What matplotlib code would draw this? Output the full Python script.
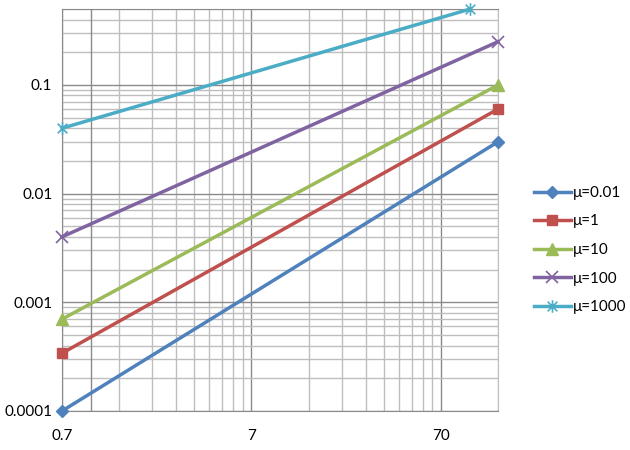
import numpy as np
import matplotlib.pyplot as plt
from matplotlib.path import Path

plt.rcParams['font.family'] = ['Lato', 'DejaVu Sans']

# datos
x_ini = 0.7
x_fin = [140, 140, 140, 140, 100]
series = ["μ=0.01", "μ=1", "μ=10", "μ=100", "μ=1000"]
y_ini = [0.0001, 0.00034, 0.0007, 0.004, 0.04]
y_fin = [0.03, 0.06, 0.1, 0.25, 0.5]

colores = ["#4F81BD", "#C0504D", "#9BBB59", "#8064A2", "#4BACC6"]

# marcador asterisco (x con linea vertical)
asterisco = Path([(-1, -1), (1, 1), (-1, 1), (1, -1), (0, -1.3), (0, 1.3)],
                 [Path.MOVETO, Path.LINETO, Path.MOVETO, Path.LINETO, Path.MOVETO, Path.LINETO])
marcadores = ["D", "s", "^", "x", asterisco]
tam = [6.5, 7.5, 8.5, 8, 9]

fig = plt.figure(figsize=(6.3, 4.5), dpi=100)
ax = fig.add_axes([62/630, 1 - 411/450, (498 - 62)/630, (411 - 9)/450])

ax.set_xscale("log")
ax.set_yscale("log")

# rejilla
x_mayor = [0.7, 7, 70]
x_menor = [0.7 * k * 10**n for n in range(3) for k in range(2, 10)]
y_mayor = [0.0001, 0.001, 0.01, 0.1]
y_menor = [k * 10.0**n for n in range(-4, 0) for k in range(2, 10)]

ax.set_xticks(x_mayor)
ax.set_xticklabels(["0.7", "7", "70"])
ax.set_xticks(x_menor, minor=True)
ax.set_yticks(y_mayor)
ax.set_yticklabels(["0.0001", "0.001", "0.01", "0.1"])
ax.set_yticks(y_menor, minor=True)
ax.set_xticklabels([], minor=True)
ax.set_yticklabels([], minor=True)
ax.set_xlim(0.7, 140)
ax.set_ylim(0.0001, 0.5)

ax.grid(which="minor", color="#BEBEBE", linewidth=1.0)
ax.grid(which="major", color="#8A8A8A", linewidth=1.0)
ax.axvline(1, color="#8A8A8A", linewidth=1.0)
ax.set_axisbelow(True)

ax.tick_params(which="both", length=0, labelsize=11, colors="black")
ax.tick_params(axis="x", pad=13)
ax.tick_params(axis="y", pad=7)

for lado in ["left", "bottom", "top"]:
    ax.spines[lado].set_color("#8A8A8A")
ax.spines["right"].set_color("#BEBEBE")

for i in range(len(series)):
    ax.plot([x_ini, x_fin[i]], [y_ini[i], y_fin[i]], color=colores[i], linewidth=2.5,
            marker=marcadores[i], markersize=tam[i], markeredgewidth=1.2 if i >= 3 else 1,
            label=series[i], clip_on=False, zorder=3 + i)

fig.legend(loc="center left", bbox_to_anchor=(528/630, 1 - 250/450), frameon=False,
           fontsize=11, handlelength=2.4, handletextpad=0.15, labelspacing=0.95,
           borderaxespad=0)

plt.savefig("out.png", dpi=100)
